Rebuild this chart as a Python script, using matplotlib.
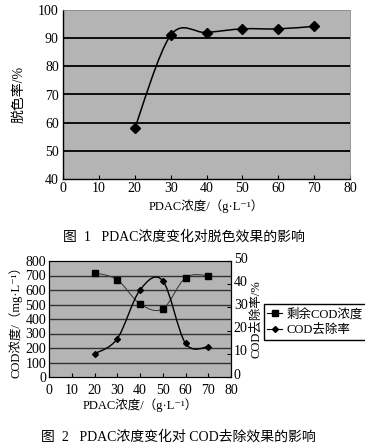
import matplotlib
matplotlib.use("Agg")
import matplotlib.pyplot as plt
import matplotlib.transforms as mtransforms
from matplotlib.path import Path
from matplotlib.patches import PathPatch
from matplotlib.lines import Line2D

plt.rcParams["font.family"] = ["Liberation Serif", "Noto Sans CJK SC", "DejaVu Serif"]
plt.rcParams["axes.unicode_minus"] = False

# Figure 1: decolorisation rate vs PDAC dose
dose = [20, 30, 40, 50, 60, 70]
decolor = [58, 91, 92, 93.3, 93.3, 94.2]

# Figure 2: residual COD and COD removal vs PDAC dose
cod_left = [720, 670, 505, 470, 685, 700]
cod_removal = [10, 16.5, 37.5, 41.5, 14.5, 13]

BG = "#b4b4b4"
XLABEL = "PDAC浓度/（g·L⁻¹）"


def smooth_patch(xs, ys, lw, color):
    # Catmull-Rom style Bezier through the points (like spreadsheet smoothed lines)
    verts = [(xs[0], ys[0])]
    codes = [Path.MOVETO]
    n = len(xs)
    for i in range(n - 1):
        x0, y0 = (xs[i - 1], ys[i - 1]) if i > 0 else (xs[i], ys[i])
        x1, y1 = xs[i], ys[i]
        x2, y2 = xs[i + 1], ys[i + 1]
        x3, y3 = (xs[i + 2], ys[i + 2]) if i + 2 < n else (x2, y2)
        c1 = (x1 + (x2 - x0) / 6, y1 + (y2 - y0) / 6)
        c2 = (x2 - (x3 - x1) / 6, y2 - (y3 - y1) / 6)
        verts += [c1, c2, (x2, y2)]
        codes += [Path.CURVE4] * 3
    return PathPatch(Path(verts, codes), fill=False, lw=lw, edgecolor=color)


fig = plt.figure(figsize=(3.65, 4.43), dpi=100)

# ---- top chart ----
ax1 = fig.add_axes([63 / 365, 1 - 179 / 443, 287 / 365, 169 / 443])
ax1.set_facecolor(BG)
ax1.set_xlim(0, 80)
ax1.set_ylim(40, 100)
ax1.set_xticks(range(0, 81, 10))
ax1.set_yticks(range(40, 101, 10))
for v in range(50, 100, 10):
    ax1.axhline(v, color="black", lw=1.3, zorder=1)
ax1.add_patch(smooth_patch(dose, decolor, 1.1, "black"))
ax1.plot(dose, decolor, ls="none", marker="D", ms=5, color="black", zorder=3)
ax1.tick_params(axis="x", direction="in", length=3, labelsize=10, pad=2)
ax1.tick_params(axis="y", length=0, labelsize=10, pad=3)
for s in ["top", "right"]:
    ax1.spines[s].set_color("#888888")
    ax1.spines[s].set_linewidth(0.6)
for s in ["left", "bottom"]:
    ax1.spines[s].set_linewidth(1.0)
ax1.set_xlabel(XLABEL, fontsize=9, labelpad=3)
ax1.set_ylabel("脱色率/%", fontsize=10, labelpad=9)
fig.text(184 / 365, 1 - 237 / 443, "图  1   PDAC浓度变化对脱色效果的影响",
         ha="center", va="center", fontsize=10)

# ---- bottom chart ----
ax2 = fig.add_axes([49 / 365, 1 - 377 / 443, 182 / 365, 116 / 443])
ax2.set_facecolor(BG)
ax2.set_xlim(0, 80)
ax2.set_ylim(0, 800)
ax2.set_xticks(range(0, 81, 10))
ax2.set_yticks(range(0, 801, 100))
for v in range(100, 800, 100):
    ax2.axhline(v, color="#333333", lw=1.0, zorder=1)
ax2.add_patch(smooth_patch(dose, cod_left, 0.7, "#333333"))
ax2.plot(dose, cod_left, ls="none", marker="s", ms=4, color="black", zorder=3)
ax2.tick_params(axis="x", direction="in", length=3, labelsize=10, pad=5)
ax2.tick_params(axis="y", length=0, labelsize=10, pad=2)
ax2.set_xlabel(XLABEL, fontsize=9, labelpad=1)
ax2.set_ylabel("COD浓度/（mg·L⁻¹）", fontsize=9, labelpad=2)

ax3 = ax2.twinx()
ax3.set_ylim(0, 50)
ax3.set_yticks(range(0, 51, 10))
ax3.add_patch(smooth_patch(dose, cod_removal, 1.0, "black"))
ax3.plot(dose, cod_removal, ls="none", marker="D", ms=3, color="black", zorder=3)
ax3.tick_params(axis="y", direction="in", length=3, labelsize=10, pad=2)
ax3.set_ylabel("COD去除率/%", fontsize=9, labelpad=2)
lift = mtransforms.ScaledTranslation(0, 2.5 / 72, fig.dpi_scale_trans)
for lab in ax3.get_yticklabels():
    lab.set_transform(lab.get_transform() + lift)
for a in (ax2, ax3):
    for s in ["top", "right"]:
        a.spines[s].set_linewidth(0.8)

handles = [
    Line2D([], [], color="black", lw=0.8, marker="s", ms=4),
    Line2D([], [], color="black", lw=0.8, marker="D", ms=3),
]
fig.legend(handles, ["剩余COD浓度", "COD去除率"], loc="center",
           bbox_to_anchor=(315 / 365, 1 - 322 / 443), fontsize=9,
           frameon=True, fancybox=False, edgecolor="black", framealpha=1,
           handlelength=1.2, handletextpad=0.3, borderpad=0.3,
           labelspacing=0.3, borderaxespad=0)

fig.text(178 / 365, 1 - 437 / 443, "图  2   PDAC浓度变化对 COD去除效果的影响",
         ha="center", va="center", fontsize=10)

fig.savefig("out.png", dpi=100)
